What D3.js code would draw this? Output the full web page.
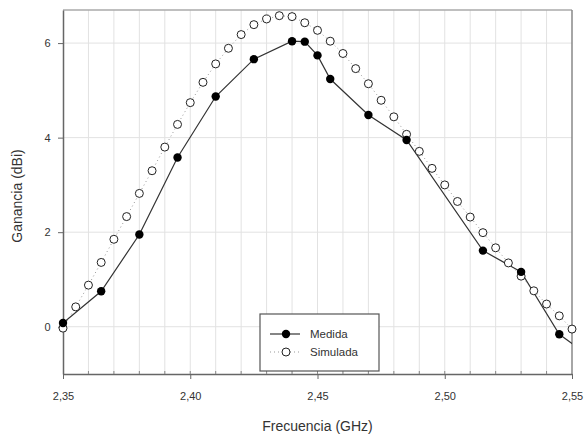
<!DOCTYPE html>
<html>
<head>
<meta charset="utf-8">
<script src="https://cdn.jsdelivr.net/npm/d3@7"></script>
<style>
  body { margin: 0; background: #fff; }
  text { font-family: "Liberation Sans", Arial, sans-serif; fill: #333; }
</style>
</head>
<body>
<svg id="chart" width="585" height="441"></svg>
<script>
// Medida (measured)
const medFreq = [2.35, 2.365, 2.38, 2.395, 2.41, 2.425, 2.44, 2.445, 2.45, 2.455, 2.47, 2.485, 2.515, 2.53, 2.545, 2.56];
const medGain = [0.08, 0.75, 1.95, 3.58, 4.87, 5.66, 6.04, 6.03, 5.74, 5.24, 4.48, 3.95, 1.61, 1.16, -0.16, -0.75];

// Simulada (simulated)
const simFreq = [2.35, 2.355, 2.36, 2.365, 2.37, 2.375, 2.38, 2.385, 2.39, 2.395,
                 2.40, 2.405, 2.41, 2.415, 2.42, 2.425, 2.43, 2.435, 2.44, 2.445,
                 2.45, 2.455, 2.46, 2.465, 2.47, 2.475, 2.48, 2.485, 2.49, 2.495,
                 2.50, 2.505, 2.51, 2.515, 2.52, 2.525, 2.53, 2.535, 2.54, 2.545, 2.55];
const simGain = [-0.03, 0.42, 0.88, 1.36, 1.85, 2.33, 2.82, 3.30, 3.80, 4.28,
                 4.74, 5.17, 5.56, 5.89, 6.18, 6.39, 6.51, 6.58, 6.56, 6.43,
                 6.27, 6.04, 5.78, 5.46, 5.14, 4.79, 4.44, 4.07, 3.71, 3.35,
                 3.00, 2.65, 2.32, 1.99, 1.67, 1.35, 1.07, 0.76, 0.48, 0.23, -0.05];

const xTicks = [2.35, 2.40, 2.45, 2.50, 2.55];
const yTicks = [0, 2, 4, 6];
const legendNames = ["Medida", "Simulada"];

const margin = {top: 10, right: 13, bottom: 67, left: 63};
const width = 585, height = 441;
const w = width - margin.left - margin.right,
      h = height - margin.top - margin.bottom;

const svg = d3.select("#chart");
const g = svg.append("g").attr("transform", `translate(${margin.left},${margin.top})`);

const x = d3.scaleLinear().domain([2.35, 2.55]).range([0, w]);
const y = d3.scaleLinear().domain([-1, 6.7]).range([h, 0]);

const fmt = d => d3.format(".2f")(d).replace(".", ",");

// grid
g.append("g").selectAll("line")
  .data(d3.range(2.36, 2.545, 0.01))
  .enter().append("line")
  .attr("x1", d => x(d)).attr("x2", d => x(d))
  .attr("y1", 0).attr("y2", h)
  .attr("stroke", "#e2e2e2").attr("stroke-width", 1);
g.append("g").selectAll("line")
  .data(yTicks)
  .enter().append("line")
  .attr("x1", 0).attr("x2", w)
  .attr("y1", d => y(d)).attr("y2", d => y(d))
  .attr("stroke", "#e2e2e2").attr("stroke-width", 1);

// frame top/right
g.append("line").attr("x1", 0).attr("x2", w).attr("y1", 0).attr("y2", 0)
  .attr("stroke", "#aaa").attr("stroke-width", 1.5);
g.append("line").attr("x1", w).attr("x2", w).attr("y1", 0).attr("y2", h)
  .attr("stroke", "#888").attr("stroke-width", 1.5);

// axes
const xAxis = g.append("g").attr("transform", `translate(0,${h})`)
  .call(d3.axisBottom(x).tickValues(xTicks).tickFormat(fmt).tickSize(5).tickSizeOuter(0));
const yAxis = g.append("g")
  .call(d3.axisLeft(y).tickValues(yTicks).tickFormat(d3.format("d")).tickSize(5).tickSizeOuter(0));
[xAxis, yAxis].forEach(a => {
  a.select(".domain").attr("stroke", "#666").attr("stroke-width", 1.5);
  a.selectAll(".tick line").attr("stroke", "#666");
  a.selectAll("text").attr("font-size", 11).attr("fill", "#444");
});
xAxis.selectAll("text").attr("dy", "1.6em");
yAxis.selectAll("text").attr("dx", "-0.4em");

// minor ticks on x axis (inward)
g.append("g").selectAll("line")
  .data(d3.range(2.36, 2.545, 0.01))
  .enter().append("line")
  .attr("x1", d => x(d)).attr("x2", d => x(d))
  .attr("y1", h).attr("y2", h - 3)
  .attr("stroke", "#888");

// clip
g.append("clipPath").attr("id", "clip")
  .append("rect").attr("width", w).attr("height", h);

const plot = g.append("g").attr("clip-path", "url(#clip)");

const medData = medFreq.map((f, i) => [f, medGain[i]]);
const simData = simFreq.map((f, i) => [f, simGain[i]]);
const line = d3.line().x(d => x(d[0])).y(d => y(d[1]));

plot.append("path").datum(simData)
  .attr("d", line).attr("fill", "none")
  .attr("stroke", "#999").attr("stroke-width", 1)
  .attr("stroke-dasharray", "1,3");
plot.append("path").datum(medData)
  .attr("d", line).attr("fill", "none")
  .attr("stroke", "#333").attr("stroke-width", 1.2);

g.append("g").selectAll("circle")
  .data(simData.filter(d => d[0] <= 2.55))
  .enter().append("circle")
  .attr("cx", d => x(d[0])).attr("cy", d => y(d[1]))
  .attr("r", 4).attr("fill", "#fff")
  .attr("stroke", "#222").attr("stroke-width", 1);
g.append("g").selectAll("circle")
  .data(medData.filter(d => d[0] <= 2.55))
  .enter().append("circle")
  .attr("cx", d => x(d[0])).attr("cy", d => y(d[1]))
  .attr("r", 4.2).attr("fill", "#000");

// legend
const lg = svg.append("g").attr("transform", "translate(260,314)");
lg.append("rect").attr("width", 119).attr("height", 57)
  .attr("fill", "#fff").attr("stroke", "#555").attr("stroke-width", 1.2);
lg.append("line").attr("x1", 10).attr("x2", 40).attr("y1", 20).attr("y2", 20)
  .attr("stroke", "#333").attr("stroke-width", 1.2);
lg.append("circle").attr("cx", 26).attr("cy", 20).attr("r", 4.2).attr("fill", "#000");
lg.append("line").attr("x1", 10).attr("x2", 40).attr("y1", 38).attr("y2", 38)
  .attr("stroke", "#999").attr("stroke-dasharray", "1,3");
lg.append("circle").attr("cx", 26).attr("cy", 38).attr("r", 4)
  .attr("fill", "#fff").attr("stroke", "#222");
lg.selectAll("text.lab").data(legendNames).enter().append("text")
  .attr("class", "lab")
  .attr("x", 50).attr("y", (d, i) => 20 + i * 18).attr("dy", "0.35em")
  .attr("font-size", 11.5).text(d => d);

// axis titles
svg.append("text")
  .attr("x", margin.left + w / 2).attr("y", 431)
  .attr("text-anchor", "middle").attr("font-size", 14).attr("fill", "#333")
  .text("Frecuencia (GHz)");
svg.append("text")
  .attr("transform", `translate(22,${margin.top + h / 2 + 4}) rotate(-90)`)
  .attr("text-anchor", "middle").attr("font-size", 14).attr("fill", "#333")
  .text("Ganancia (dBi)");
</script>
</body>
</html>
